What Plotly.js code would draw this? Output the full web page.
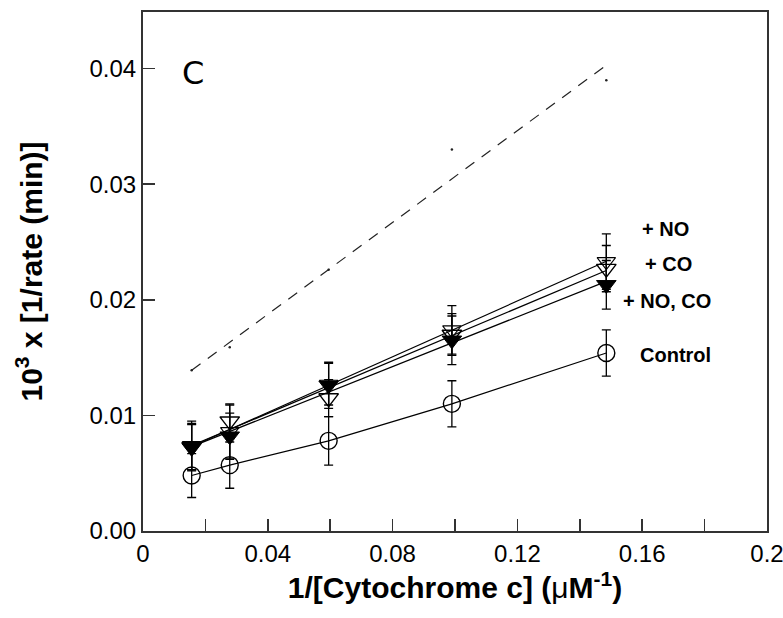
<!DOCTYPE html>
<html>
<head>
<meta charset="utf-8">
<script src="https://cdn.plot.ly/plotly-3.0.1.min.js"></script>
<style>
  html, body { margin: 0; padding: 0; background: #fff; }
  #chart { width: 783px; height: 618px; }
</style>
</head>
<body>
<div id="chart"></div>
<script>
// ---- data ----
const xCyt = [0.0156, 0.0278, 0.0595, 0.0990, 0.1485];

const controlY   = [0.0048, 0.0057, 0.0078, 0.0110, 0.0154];
const controlErr = [0.0019, 0.0020, 0.0021, 0.0020, 0.0020];

const noY   = [0.0074, 0.0086, 0.0127, 0.0174, 0.0233];
const noErr = [0.0021, 0.0023, 0.0018, 0.0021, 0.0024];

const coY   = [0.0073, 0.0095, 0.0115, 0.0170, 0.0227];
const coErr = [0.0020, 0.0015, 0.0016, 0.0018, 0.0020];

const noCoY   = [0.0072, 0.0082, 0.0126, 0.0165, 0.0213];
const noCoErr = [0.0020, 0.0020, 0.0020, 0.0021, 0.0021];

// faint extra series (small dots) and its dashed fit line
const dotY   = [0.0139, 0.0159, 0.0226, 0.0330, 0.0390];
const fitX   = [0.0156, 0.1485];
const fitY   = [0.0139, 0.0403];

const seriesLabels = ["+ NO", "+ CO", "+ NO, CO", "Control"];
const labelX = [0.1676, 0.1683, 0.1680, 0.1708];
const labelY = [0.0261, 0.0231, 0.0199, 0.0152];

const xTickVals = [0, 0.04, 0.08, 0.12, 0.16, 0.2];
const xTickText = ["0", "0.04", "0.08", "0.12", "0.16", "0.2"];
const yTickVals = [0, 0.01, 0.02, 0.03, 0.04];
const yTickText = ["0.00", "0.01", "0.02", "0.03", "0.04"];

// least-squares line through a series, drawn over the measured x range
function fitLine(xs, ys) {
  const n = xs.length;
  const mx = xs.reduce((a, b) => a + b, 0) / n;
  const my = ys.reduce((a, b) => a + b, 0) / n;
  let sxy = 0, sxx = 0;
  for (let i = 0; i < n; i++) { sxy += (xs[i] - mx) * (ys[i] - my); sxx += (xs[i] - mx) ** 2; }
  const m = sxy / sxx, c = my - m * mx;
  const x0 = Math.min(...xs), x1 = Math.max(...xs);
  return { x: [x0, x1], y: [m * x0 + c, m * x1 + c] };
}

function errBar(arr) {
  return { type: 'data', array: arr, visible: true, color: '#000', thickness: 1.3, width: 4.5 };
}

const lineStyle = { color: '#000', width: 1.2 };
const fNO = fitLine(xCyt, noY), fCO = fitLine(xCyt, coY), fNOCO = fitLine(xCyt, noCoY);

const traces = [
  { x: fitX, y: fitY, mode: 'lines', type: 'scatter',
    line: { color: '#222', width: 1.2, dash: '11px,9px' } },
  { x: xCyt, y: dotY, mode: 'markers', type: 'scatter',
    marker: { symbol: 'circle', size: 2.5, color: '#222' } },
  { x: fNO.x, y: fNO.y, mode: 'lines', type: 'scatter', line: lineStyle },
  { x: fCO.x, y: fCO.y, mode: 'lines', type: 'scatter', line: lineStyle },
  { x: fNOCO.x, y: fNOCO.y, mode: 'lines', type: 'scatter', line: lineStyle },
  { x: xCyt, y: controlY, mode: 'lines+markers', type: 'scatter',
    line: lineStyle,
    marker: { symbol: 'circle-open', size: 17, color: '#000', line: { width: 1.4, color: '#000' } },
    error_y: errBar(controlErr) },
  { x: xCyt, y: noY, mode: 'markers', type: 'scatter',
    marker: { symbol: 'triangle-down-open', size: 16, color: '#000', line: { width: 1.1, color: '#000' } },
    error_y: errBar(noErr) },
  { x: xCyt, y: coY, mode: 'markers', type: 'scatter',
    marker: { symbol: 'triangle-down-open', size: 17, color: '#000', line: { width: 1.4, color: '#000' } },
    error_y: errBar(coErr) },
  { x: xCyt, y: noCoY, mode: 'markers', type: 'scatter',
    marker: { symbol: 'triangle-down', size: 17, color: '#000', line: { width: 1, color: '#000' } },
    error_y: errBar(noCoErr) }
];

const annotations = seriesLabels.map((t, i) => ({
  x: labelX[i], y: labelY[i], xref: 'x', yref: 'y',
  text: '<b>' + t + '</b>', showarrow: false,
  font: { family: 'Liberation Sans, Arial, sans-serif', size: 20, color: '#000' },
  xanchor: 'center', yanchor: 'middle'
}));
annotations.push({
  x: 0.012, y: 0.0396, xref: 'x', yref: 'y', text: 'C', showarrow: false,
  font: { family: 'DejaVu Sans, sans-serif', size: 32, color: '#000' },
  xanchor: 'left', yanchor: 'middle'
});

const layout = {
  width: 783, height: 618,
  margin: { l: 143, r: 16, t: 12, b: 87 },
  paper_bgcolor: '#fff', plot_bgcolor: '#fff',
  showlegend: false,
  font: { family: 'Liberation Sans, Arial, sans-serif', color: '#000' },
  xaxis: {
    range: [0, 0.2], showgrid: false, zeroline: false,
    showline: true, mirror: true, linecolor: '#333', linewidth: 2,
    tickmode: 'array', tickvals: xTickVals, ticktext: xTickText,
    ticklabeloverflow: 'allow',
    ticks: 'inside', ticklen: 12, tickwidth: 1.5, tickcolor: '#333',
    minor: { dtick: 0.02, tick0: 0, ticks: 'inside', ticklen: 12, tickwidth: 1.5, tickcolor: '#333' },
    tickfont: { size: 24, family: 'Liberation Sans, Arial, sans-serif', color: '#000' },
    title: { text: '<b>1/[Cytochrome c] (</b>μ<b>M<sup>-1</sup>)</b>',
             font: { size: 30, family: 'Liberation Sans, Arial, sans-serif', color: '#000' }, standoff: 8 }
  },
  yaxis: {
    range: [0, 0.0449], showgrid: false, zeroline: false,
    showline: true, mirror: true, linecolor: '#333', linewidth: 2,
    tickmode: 'array', tickvals: yTickVals, ticktext: yTickText,
    ticks: 'inside', ticklen: 12, tickwidth: 1.5, tickcolor: '#333',
    tickfont: { size: 24, family: 'Liberation Sans, Arial, sans-serif', color: '#000' },
    title: { text: '<b>10<sup>3</sup> x [1/rate (min)]</b>',
             font: { size: 30, family: 'Liberation Sans, Arial, sans-serif', color: '#000' }, standoff: 38 }
  },
  annotations: annotations
};

Plotly.newPlot('chart', traces, layout, { displayModeBar: false, staticPlot: true });
</script>
</body>
</html>
